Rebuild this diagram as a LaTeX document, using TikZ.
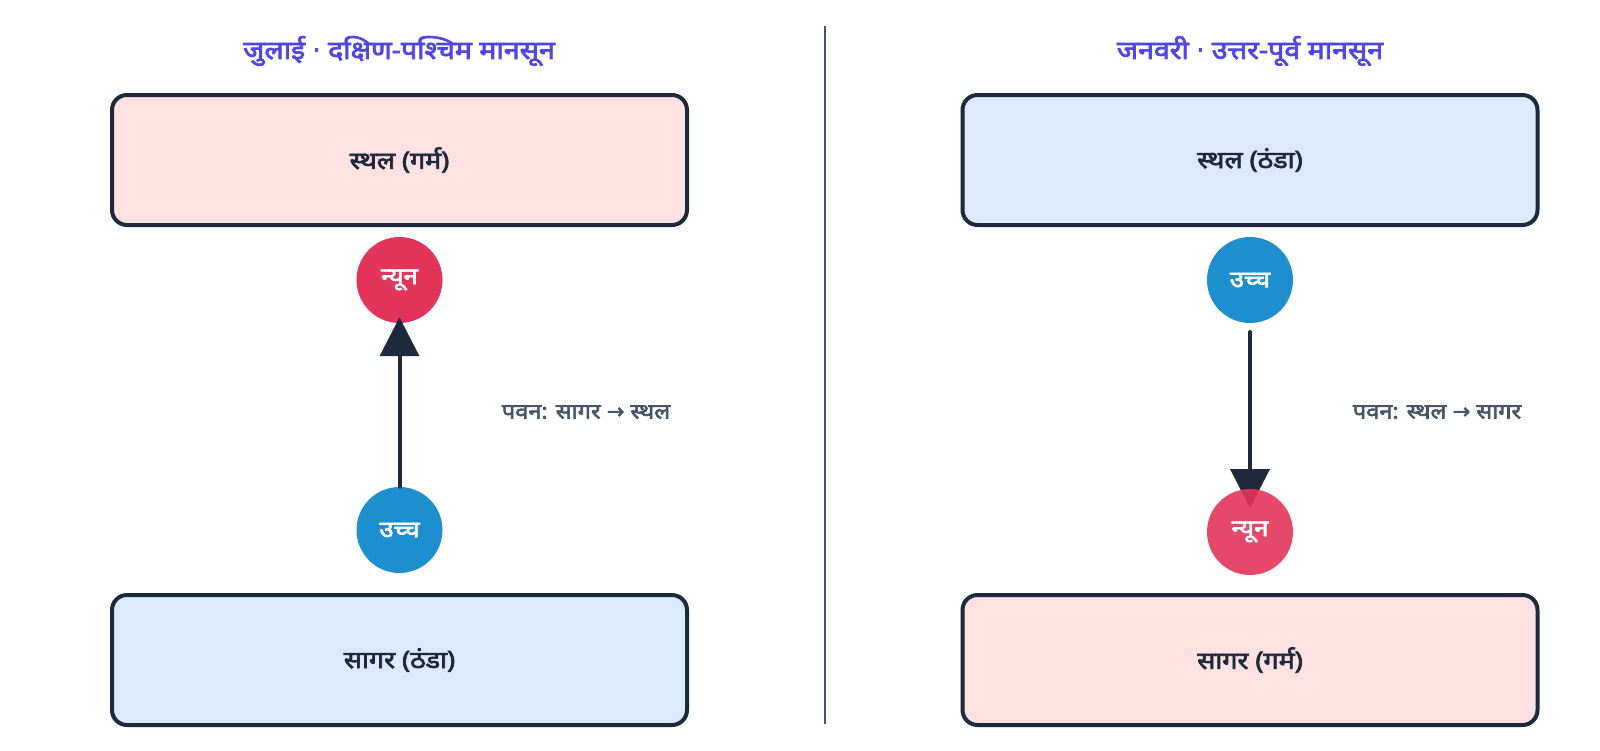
\documentclass[tikz,border=0pt]{standalone}
\usepackage{fontspec}
\setmainfont{Noto Sans}
\newfontfamily\deva[Script=Devanagari, AutoFakeBold=3, FakeStretch=1.12]{Noto Sans}
\newfontfamily\symf[AutoFakeBold=2]{DejaVu Sans}
\usetikzlibrary{arrows.meta}
\definecolor{ink}{HTML}{1E293B}
\definecolor{titlec}{HTML}{4F46E5}
\definecolor{warm}{HTML}{FEE2E2}
\definecolor{cool}{HTML}{DBEAFE}
\definecolor{lowc}{HTML}{E3345A}
\definecolor{highc}{HTML}{1D8FCE}
\definecolor{greyc}{HTML}{475569}
\tikzset{
  region/.style={draw=ink, line width=4pt, rounded corners=15pt, minimum width=575pt, minimum height=130pt, font=\deva\bfseries\fontsize{24}{28}\selectfont, text=ink, inner sep=0pt},
  pres/.style={circle, minimum size=86pt, inner sep=0pt, font=\deva\bfseries\fontsize{23}{26}\selectfont, text=white},
  low/.style={pres, fill=lowc},
  high/.style={pres, fill=highc},
  ttl/.style={font=\deva\bfseries\fontsize{25.5}{30}\selectfont, text=titlec},
  wind/.style={font=\deva\bfseries\fontsize{21}{24}\selectfont, text=greyc},
  flow/.style={draw=ink, line width=4pt, line cap=round, -{Triangle[length=39pt,width=39pt]}},
}
\begin{document}
\begin{tikzpicture}[x=1pt,y=-1pt]
\useasboundingbox (0,0) rectangle (1600,750);
% left panel
\node[ttl] (t1) at (399,51) {जुलाई {\symf\bfseries ·} दक्षिण-पश्चिम मानसून};
\node[region, fill=warm] (land1) at (399.5,160) {स्थल (गर्म)};
\node[low] (lo1) at (399.5,280) {न्यून};
\node[high] (hi1) at (399.5,530) {उच्च};
\node[region, fill=cool] (sea1) at (399.5,660) {सागर (ठंडा)};
\draw[flow] (hi1.north) -- ([yshift=6pt]lo1.south);
\node[wind] (w1) at (586,412) {पवन: सागर {\symf\bfseries →} स्थल};
% divider
\coordinate (dtop) at (825,26);
\coordinate (dbot) at (825,724);
\draw[greyc, line width=2.5pt] (dtop) -- (dbot);
% right panel
\node[ttl] (t2) at (1250,51) {जनवरी {\symf\bfseries ·} उत्तर-पूर्व मानसून};
\node[region, fill=cool] (land2) at (1250,160) {स्थल (ठंडा)};
\node[high] (hi2) at (1250,280) {उच्च};
\node[region, fill=warm] (sea2) at (1250,660) {सागर (गर्म)};
\coordinate (s2) at (1250,332);
\coordinate (e2) at (1250,508);
\draw[flow] (s2) -- (e2);
\node[low, fill opacity=0.9, text opacity=1] (lo2) at (1250,532) {न्यून};
\node[wind] (w2) at (1437,412) {पवन: स्थल {\symf\bfseries →} सागर};
\end{tikzpicture}
\end{document}
